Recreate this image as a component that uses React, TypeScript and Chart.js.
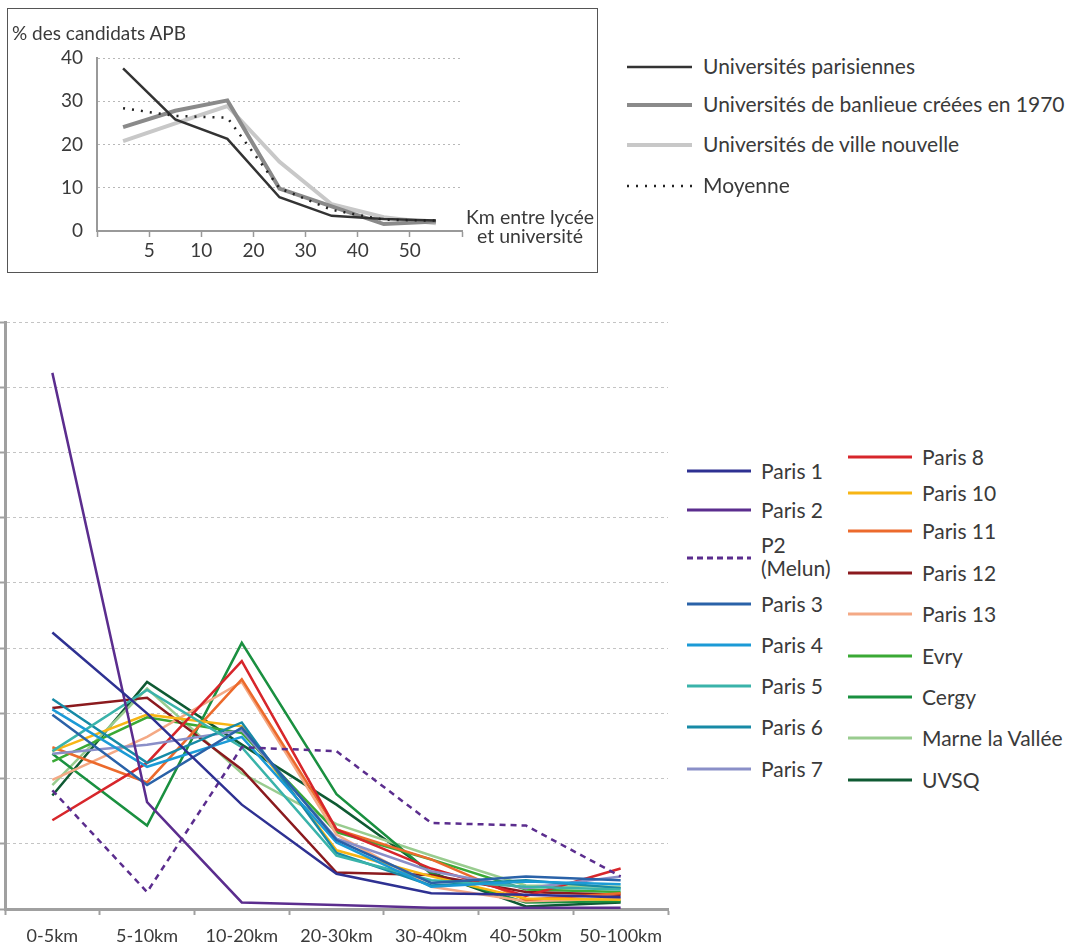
import React, { useEffect, useRef } from 'react';
import { Chart, registerables } from 'chart.js';

Chart.register(...registerables);

const FONT = 'Lato, "Open Sans", "DejaVu Sans", sans-serif';
const TEXT = '#3a3a3a';

// ---------- Inset chart (top) ----------
const insetBins = ['0-5', '5-10', '10-20', '20-30', '30-40', '40-50', '50+'];
const insetTickLabels = ['', '5', '10', '20', '30', '40', '50', ''];
const univParisiennes = [37.6, 25.8, 21.3, 7.8, 3.5, 2.8, 2.4];
const univBanlieue = [24.0, 27.8, 30.2, 9.8, 5.7, 1.6, 2.2];
const univVilleNouvelle = [20.8, 24.9, 28.9, 16.0, 6.2, 3.2, 1.8];
const moyenne = [28.4, 26.6, 26.2, 9.9, 4.9, 2.6, 2.4];
const insetNames = [
  'Universités parisiennes',
  'Universités de banlieue créées en 1970',
  'Universités de ville nouvelle',
  'Moyenne',
];

// ---------- Main chart ----------
const distanceCategories = ['0-5km', '5-10km', '10-20km', '20-30km', '30-40km', '40-50km', '50-100km'];
const paris1 = [21.2, 15.0, 8.0, 2.7, 1.2, 1.1, 0.9];
const paris2 = [41.1, 8.2, 0.5, 0.3, 0.1, 0.1, 0.1];
const paris2Melun = [9.1, 1.3, 12.4, 12.1, 6.6, 6.4, 2.5];
const paris3 = [14.9, 9.5, 13.9, 5.3, 2.0, 2.5, 2.2];
const paris4 = [15.3, 10.9, 13.2, 5.1, 1.7, 2.1, 1.9];
const paris5 = [12.1, 16.8, 12.4, 4.1, 2.2, 1.7, 1.5];
const paris6 = [16.1, 11.2, 14.3, 4.3, 1.8, 2.2, 1.6];
const paris7 = [11.9, 12.6, 13.7, 5.4, 2.9, 1.6, 2.5];
const paris8 = [6.8, 11.2, 19.0, 6.1, 3.1, 1.0, 3.1];
const paris10 = [12.1, 14.9, 14.0, 4.5, 2.5, 0.8, 0.7];
const paris11 = [12.4, 9.7, 17.6, 6.1, 3.8, 0.7, 1.2];
const paris12 = [15.4, 16.2, 10.7, 2.8, 2.6, 1.3, 1.1];
const paris13 = [9.9, 13.2, 17.4, 5.7, 1.7, 0.6, 0.8];
const evry = [11.3, 14.7, 13.5, 5.9, 3.8, 1.5, 1.3];
const cergy = [11.9, 6.4, 20.4, 8.8, 2.7, 0.5, 0.6];
const marneLaVallee = [9.5, 16.9, 10.4, 6.5, 4.1, 1.8, 1.7];
const uvsq = [8.7, 17.4, 12.6, 8.0, 2.8, 0.2, 0.5];

const mainSeries = [
  { name: 'Paris 1', values: paris1 },
  { name: 'Paris 2', values: paris2 },
  { name: 'P2 (Melun)', values: paris2Melun },
  { name: 'Paris 3', values: paris3 },
  { name: 'Paris 4', values: paris4 },
  { name: 'Paris 5', values: paris5 },
  { name: 'Paris 6', values: paris6 },
  { name: 'Paris 7', values: paris7 },
  { name: 'Paris 8', values: paris8 },
  { name: 'Paris 10', values: paris10 },
  { name: 'Paris 11', values: paris11 },
  { name: 'Paris 12', values: paris12 },
  { name: 'Paris 13', values: paris13 },
  { name: 'Evry', values: evry },
  { name: 'Cergy', values: cergy },
  { name: 'Marne la Vallée', values: marneLaVallee },
  { name: 'UVSQ', values: uvsq },
];

// styles (kept apart from data)
const mainColors: Record<string, string> = {
  'Paris 1': '#2e3192',
  'Paris 2': '#5b2d8e',
  'P2 (Melun)': '#5b2d8e',
  'Paris 3': '#2a62a8',
  'Paris 4': '#1b9ad6',
  'Paris 5': '#3ab3aa',
  'Paris 6': '#178aa6',
  'Paris 7': '#8a8fc8',
  'Paris 8': '#d7262b',
  'Paris 10': '#f7b515',
  'Paris 11': '#ec6a2c',
  'Paris 12': '#8b1a1e',
  'Paris 13': '#f4a985',
  'Evry': '#3aa935',
  'Cergy': '#1a9040',
  'Marne la Vallée': '#99cc8f',
  'UVSQ': '#0f5a33',
};
const dashedSeries = ['P2 (Melun)'];

// legend layout (page coordinates)
const mainLegendLeft = [
  { name: 'Paris 1', y: 471 },
  { name: 'Paris 2', y: 510 },
  { name: 'P2 (Melun)', y: 558 },
  { name: 'Paris 3', y: 604 },
  { name: 'Paris 4', y: 645 },
  { name: 'Paris 5', y: 686 },
  { name: 'Paris 6', y: 727 },
  { name: 'Paris 7', y: 769 },
];
const mainLegendRight = [
  { name: 'Paris 8', y: 457 },
  { name: 'Paris 10', y: 493 },
  { name: 'Paris 11', y: 531 },
  { name: 'Paris 12', y: 573 },
  { name: 'Paris 13', y: 614 },
  { name: 'Evry', y: 656 },
  { name: 'Cergy', y: 697 },
  { name: 'Marne la Vallée', y: 738 },
  { name: 'UVSQ', y: 780 },
];
const insetStyles = [
  { color: '#333333', width: 2.5, dash: [] as number[] },
  { color: '#8a8a8a', width: 4, dash: [] as number[] },
  { color: '#c8c8c8', width: 4, dash: [] as number[] },
  { color: '#222222', width: 2.5, dash: [2, 7] },
];
const insetLegendY = [67, 105, 145, 186];

function Sample({ x, y, w, color, width, dash }: { x: number; y: number; w: number; color: string; width: number; dash: number[] }) {
  return (
    <svg style={{ position: 'absolute', left: x, top: y - 6, width: w, height: 12, overflow: 'visible' }}>
      <line x1={0} y1={6} x2={w} y2={6} stroke={color} strokeWidth={width} strokeDasharray={dash.length ? dash.join(' ') : undefined} />
    </svg>
  );
}

export default function App() {
  const insetRef = useRef<HTMLCanvasElement>(null);
  const mainRef = useRef<HTMLCanvasElement>(null);

  useEffect(() => {
    const insetSeries = [univParisiennes, univBanlieue, univVilleNouvelle, moyenne];
    const inset = new Chart(insetRef.current!, {
      type: 'line',
      data: {
        datasets: insetSeries.map((vals, k) => ({
          label: insetNames[k],
          data: vals.map((v, i) => ({ x: i + 0.5, y: v, bin: insetBins[i] })),
          borderColor: insetStyles[k].color,
          borderWidth: insetStyles[k].width,
          borderDash: insetStyles[k].dash,
          order: k === 3 ? 0 : k + 1,
          pointRadius: 0,
          tension: 0,
          fill: false,
        })),
      },
      options: {
        responsive: false,
        animation: false,
        events: [],
        layout: { padding: { top: 49, right: 134, left: 0, bottom: 0 } },
        plugins: { legend: { display: false }, tooltip: { enabled: false } },
        scales: {
          x: {
            type: 'linear',
            min: 0,
            max: 7,
            afterFit: (s: any) => { s.height = 40; },
            ticks: {
              stepSize: 1,
              autoSkip: false,
              maxRotation: 0,
              callback: (v: any) => insetTickLabels[v] ?? '',
              font: { family: FONT, size: 19 },
              color: TEXT,
              padding: 2,
            },
            grid: { display: true, drawOnChartArea: false, drawTicks: true, tickLength: 6, tickColor: '#999', tickWidth: 1.5 },
            border: { display: true, color: '#999', width: 2 },
          },
          y: {
            min: 0,
            max: 40,
            afterFit: (s: any) => { s.width = 89; },
            ticks: { stepSize: 10, font: { family: FONT, size: 19 }, color: TEXT, padding: 14 },
            grid: { color: '#b8b8b8', lineWidth: 1, drawTicks: false },
            border: { display: true, color: '#999', width: 2, dash: [2, 3] },
          },
        },
      },
    } as any);

    const main = new Chart(mainRef.current!, {
      type: 'line',
      data: {
        labels: distanceCategories,
        datasets: mainSeries.map((s) => ({
          label: s.name,
          data: s.values,
          borderColor: mainColors[s.name],
          borderWidth: 2.5,
          borderDash: dashedSeries.includes(s.name) ? [6, 5] : [],
          pointRadius: 0,
          tension: 0,
          fill: false,
        })),
      },
      options: {
        responsive: false,
        animation: false,
        events: [],
        layout: { padding: { top: 22, right: 12, left: 0, bottom: 0 } },
        plugins: { legend: { display: false }, tooltip: { enabled: false } },
        scales: {
          x: {
            type: 'category',
            offset: true,
            afterFit: (s: any) => { s.height = 40; },
            ticks: { font: { family: FONT, size: 18 }, color: TEXT, padding: 10, maxRotation: 0, autoSkip: false },
            grid: { display: true, drawOnChartArea: false, offset: true, drawTicks: true, tickLength: 6, tickColor: '#a0a0a0', tickWidth: 2 },
            border: { display: true, color: '#a0a0a0', width: 3 },
          },
          y: {
            min: 0,
            max: 45,
            afterFit: (s: any) => { s.width = 5; },
            ticks: { stepSize: 5, display: false },
            grid: { color: '#c4c4c4', lineWidth: 1, drawTicks: true, tickLength: 5, tickColor: '#a0a0a0', tickWidth: 2 },
            border: { display: true, color: '#a0a0a0', width: 3, dash: [3, 3] },
          },
        },
      },
    } as any);

    return () => {
      inset.destroy();
      main.destroy();
    };
  }, []);

  const legendText = (name: string) =>
    name === 'P2 (Melun)' ? (
      <div style={{ lineHeight: '23px' }}>
        <div>P2</div>
        <div>(Melun)</div>
      </div>
    ) : (
      name
    );

  return (
    <div style={{ position: 'absolute', left: 0, top: 0, width: 1079, height: 949, background: '#fff', fontFamily: FONT, color: TEXT, overflow: 'hidden' }}>
      {/* inset frame */}
      <div style={{ position: 'absolute', left: 7, top: 8, width: 591, height: 265, border: '1px solid #555', boxSizing: 'border-box' }} />
      <canvas ref={insetRef} width={588} height={262} style={{ position: 'absolute', left: 8, top: 9, width: 588, height: 262, display: 'block' }} />
      <div style={{ position: 'absolute', left: 12, top: 22, fontSize: 19, lineHeight: '21px', whiteSpace: 'nowrap' }}>% des candidats APB</div>
      <div style={{ position: 'absolute', left: 455, top: 207, width: 150, textAlign: 'center', fontSize: 19.5, lineHeight: '19px', whiteSpace: 'nowrap' }}>
        <div>Km entre lycée</div>
        <div>et université</div>
      </div>
      {insetNames.map((n, k) => (
        <React.Fragment key={n}>
          <Sample x={627} y={insetLegendY[k]} w={65} color={insetStyles[k].color} width={insetStyles[k].width} dash={insetStyles[k].dash} />
          <div style={{ position: 'absolute', left: 703, top: insetLegendY[k] - 14, fontSize: 21, lineHeight: '26px', whiteSpace: 'nowrap' }}>{n}</div>
        </React.Fragment>
      ))}

      {/* main chart */}
      <canvas ref={mainRef} width={680} height={649} style={{ position: 'absolute', left: 0, top: 300, width: 680, height: 649, display: 'block' }} />
      {mainLegendLeft.map((it) => (
        <React.Fragment key={it.name}>
          <Sample x={687} y={it.y} w={64} color={mainColors[it.name]} width={3} dash={dashedSeries.includes(it.name) ? [6, 4] : []} />
          <div style={{ position: 'absolute', left: 761, top: it.name === 'P2 (Melun)' ? it.y - 25 : it.y - 13, fontSize: 21, lineHeight: '25px', whiteSpace: 'nowrap' }}>
            {legendText(it.name)}
          </div>
        </React.Fragment>
      ))}
      {mainLegendRight.map((it) => (
        <React.Fragment key={it.name}>
          <Sample x={848} y={it.y} w={64} color={mainColors[it.name]} width={3} dash={[]} />
          <div style={{ position: 'absolute', left: 922, top: it.y - 13, fontSize: 21, lineHeight: '25px', whiteSpace: 'nowrap' }}>{it.name}</div>
        </React.Fragment>
      ))}
    </div>
  );
}
